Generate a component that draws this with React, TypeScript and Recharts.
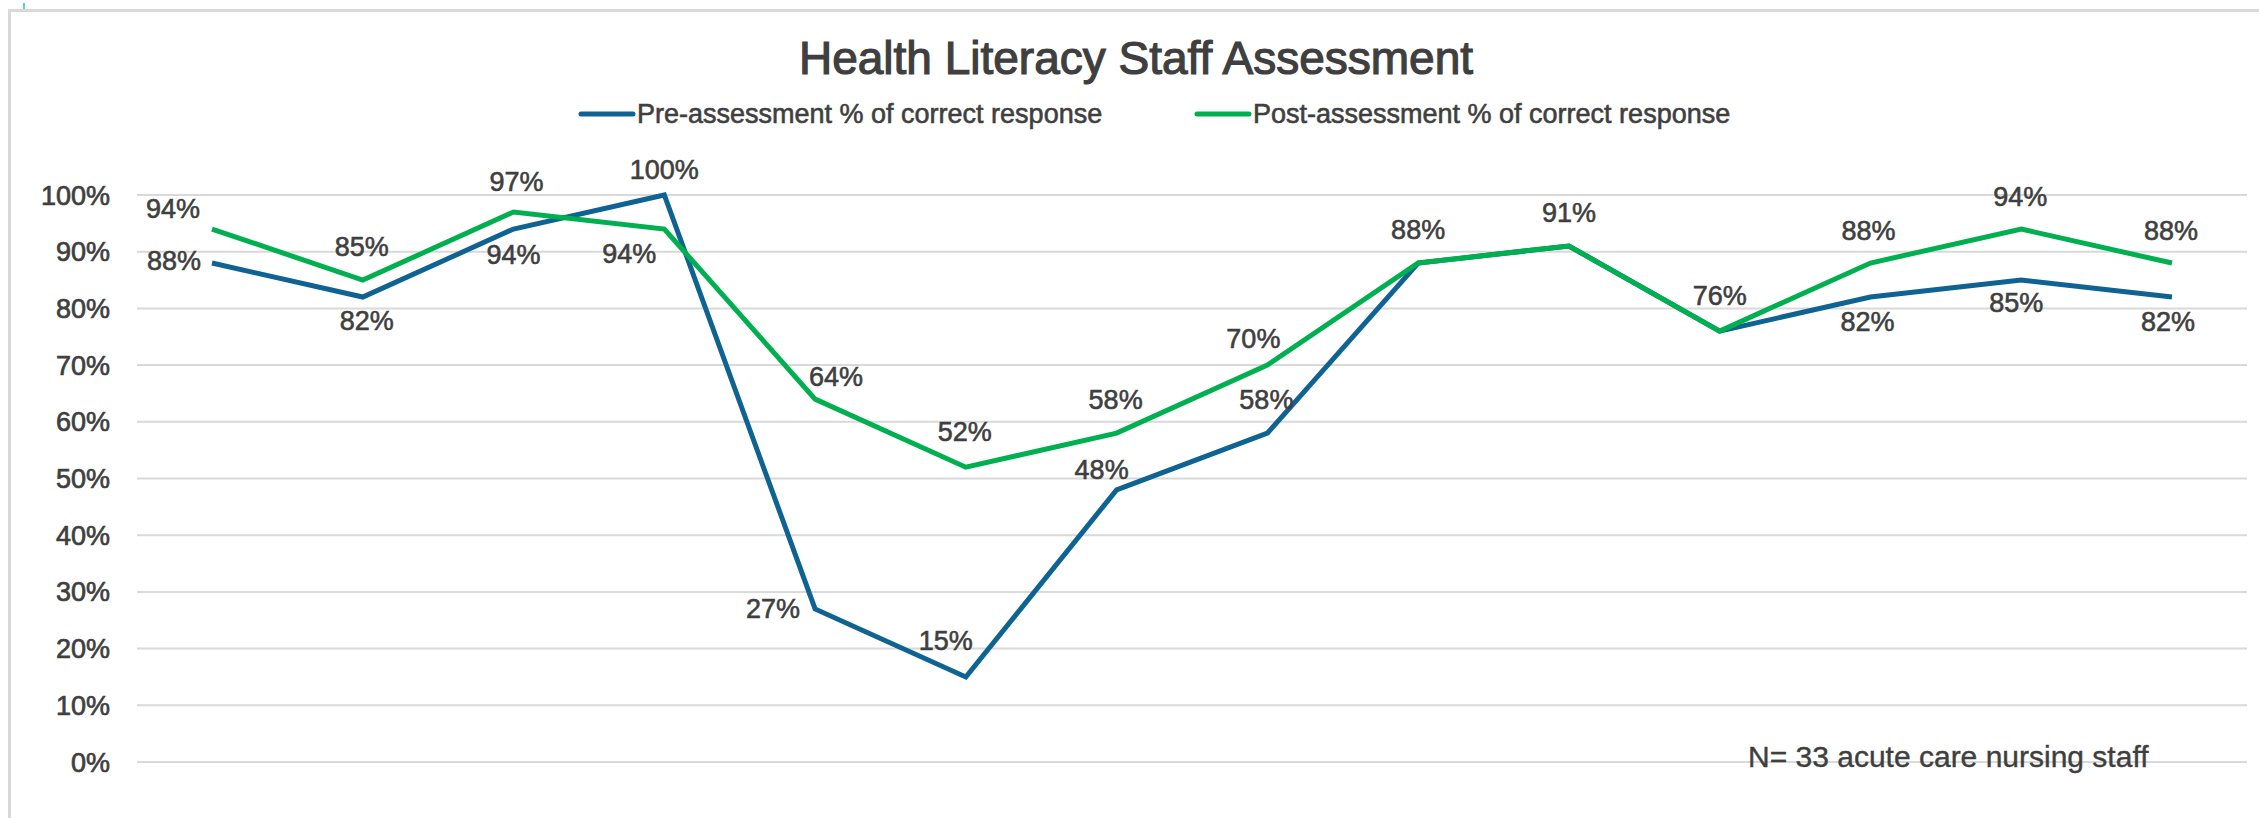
import React from 'react';
import { LineChart, Line, XAxis, YAxis, CartesianGrid, LabelList } from 'recharts';

// data
const questions = ['Q1', 'Q2', 'Q3', 'Q4', 'Q5', 'Q6', 'Q7', 'Q8', 'Q9', 'Q10', 'Q11', 'Q12', 'Q13', 'Q14'];
const preScores = [88, 82, 94, 100, 27, 15, 48, 58, 88, 91, 76, 82, 85, 82];
const postScores = [94, 85, 97, 94, 64, 52, 58, 70, 88, 91, 76, 88, 94, 88];
const yTicks = [0, 10, 20, 30, 40, 50, 60, 70, 80, 90, 100];

const chartTitle = 'Health Literacy Staff Assessment';
const preName = 'Pre-assessment % of correct response';
const postName = 'Post-assessment % of correct response';
const footnote = 'N= 33 acute care nursing staff';

const PRE_COLOR = '#0f6392';
const POST_COLOR = '#00b050';
const TEXT = '#3f3f3f';
const GRID = '#d9d9d9';
const FONT = "'Liberation Sans', Arial, sans-serif";

// where each data label sits relative to its point (dx, dy)
const preLabelPos: [number, number][] = [
  [-38, -2], [4, 24], [0, 26], [0, -25], [-42, 0], [-20, -36], [-15, -20],
  [-1, -33], [0, -33], [0, -33], [0, -35], [-3, 25], [-5, 23], [-4, 25],
];
const postLabelPos: [number, number][] = [
  [-39, -20], [-1, -33], [3, -30], [-35, 25], [21, -22], [-1, -35], [-1, -33],
  [-14, -26], [0, -33], [0, -33], [0, -35], [-2, -32], [-1, -32], [-1, -32],
];

const chartData = questions.map((q, i) => ({ name: q, pre: preScores[i], post: postScores[i] }));

// a thin outline makes Liberation look closer to the heavier original face
const heavy = (w: number) => ({ stroke: TEXT, strokeWidth: w, paintOrder: 'stroke' as const });

const makeLabel = (pos: [number, number][], hideSameAsPost = false) => (props: any) => {
  const { x, y, value, index } = props;
  if (x == null || y == null) return null;
  // where both series meet only one label is shown
  if (hideSameAsPost && postScores[index] === value) return null;
  const [dx, dy] = pos[index] || [0, -30];
  return (
    <text
      x={x + dx}
      y={y + dy}
      textAnchor="middle"
      dominantBaseline="central"
      fill={TEXT}
      fontSize={27}
      fontFamily={FONT}
      {...heavy(0.6)}
    >
      {value}%
    </text>
  );
};

export default function App() {
  return (
    <div style={{ position: 'absolute', left: 0, top: 0, width: 2259, height: 818, overflow: 'hidden', background: '#fff' }}>
      {/* chart frame */}
      <div style={{ position: 'absolute', left: 8, top: 9, width: 2400, height: 1000, borderLeft: `3px solid ${GRID}`, borderTop: `3px solid ${GRID}` }} />
      <div style={{ position: 'absolute', left: 23, top: 3, width: 2, height: 6, background: '#5bc8e6' }} />

      <div style={{ position: 'absolute', left: 0, top: 0 }}>
        <LineChart width={2259} height={818} data={chartData} margin={{ top: 195, right: 12, bottom: 56, left: 0 }}>
          <CartesianGrid vertical={false} stroke={GRID} strokeWidth={2} />
          <XAxis dataKey="name" hide padding={{ left: 75, right: 75 }} />
          <YAxis
            width={137}
            domain={[0, 100]}
            ticks={yTicks}
            tickFormatter={(v) => `${v}%`}
            axisLine={false}
            tickLine={false}
            tickSize={0}
            tickMargin={27}
            tick={{ fill: TEXT, fontSize: 27, fontFamily: FONT, ...heavy(0.7) }}
          />
          <Line type="linear" dataKey="pre" stroke={PRE_COLOR} strokeWidth={5} dot={false} activeDot={false} isAnimationActive={false}>
            <LabelList dataKey="pre" content={makeLabel(preLabelPos, true)} />
          </Line>
          <Line type="linear" dataKey="post" stroke={POST_COLOR} strokeWidth={5} dot={false} activeDot={false} isAnimationActive={false}>
            <LabelList dataKey="post" content={makeLabel(postLabelPos)} />
          </Line>
        </LineChart>
      </div>

      {/* title, legend, note */}
      <svg width={2259} height={818} style={{ position: 'absolute', left: 0, top: 0, pointerEvents: 'none' }}>
        <text x={1136} y={58} textAnchor="middle" dominantBaseline="central" fill={TEXT} fontSize={46} fontFamily={FONT} {...heavy(1.2)}>
          {chartTitle}
        </text>
        <line x1={581} x2={633} y1={114} y2={114} stroke={PRE_COLOR} strokeWidth={5} strokeLinecap="round" />
        <text x={637} y={114} dominantBaseline="central" fill={TEXT} fontSize={27} fontFamily={FONT} {...heavy(0.6)}>
          {preName}
        </text>
        <line x1={1197} x2={1249} y1={114} y2={114} stroke={POST_COLOR} strokeWidth={5} strokeLinecap="round" />
        <text x={1253} y={114} dominantBaseline="central" fill={TEXT} fontSize={27} fontFamily={FONT} {...heavy(0.6)}>
          {postName}
        </text>
        <text x={1748} y={756} dominantBaseline="central" fill={TEXT} fontSize={30} fontFamily={FONT} {...heavy(0.4)}>
          {footnote}
        </text>
      </svg>
    </div>
  );
}
